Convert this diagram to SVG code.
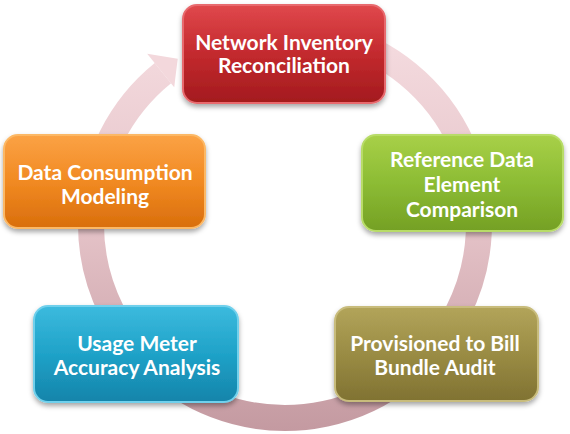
<svg xmlns="http://www.w3.org/2000/svg" width="570" height="434" viewBox="0 0 570 434">
<style>
.lbl{font-family:Lato,"Liberation Sans",sans-serif;font-weight:bold;font-size:21px;fill:#ffffff;text-anchor:middle}
.box{stroke-width:2}
</style>
<defs>
<linearGradient id="ring" gradientUnits="userSpaceOnUse" x1="0" y1="30" x2="0" y2="430">
<stop offset="0" stop-color="#f5dce0"/><stop offset="0.5" stop-color="#e4c2c7"/><stop offset="1" stop-color="#c49aa1"/>
</linearGradient>
<linearGradient id="gRed" x1="0" y1="0" x2="0" y2="1">
<stop offset="0" stop-color="#e0484c"/><stop offset="0.5" stop-color="#c32a2e"/><stop offset="1" stop-color="#a31a1e"/>
</linearGradient>
<linearGradient id="gGreen" x1="0" y1="0" x2="0" y2="1">
<stop offset="0" stop-color="#a8d048"/><stop offset="0.5" stop-color="#8cbc34"/><stop offset="1" stop-color="#74a024"/>
</linearGradient>
<linearGradient id="gOrange" x1="0" y1="0" x2="0" y2="1">
<stop offset="0" stop-color="#fba245"/><stop offset="0.5" stop-color="#f18a22"/><stop offset="1" stop-color="#d96e0c"/>
</linearGradient>
<linearGradient id="gBlue" x1="0" y1="0" x2="0" y2="1">
<stop offset="0" stop-color="#3cbade"/><stop offset="0.5" stop-color="#1fa2c8"/><stop offset="1" stop-color="#1584aa"/>
</linearGradient>
<linearGradient id="gOlive" x1="0" y1="0" x2="0" y2="1">
<stop offset="0" stop-color="#b2a45a"/><stop offset="0.5" stop-color="#9a8c44"/><stop offset="1" stop-color="#807232"/>
</linearGradient>
<filter id="sh" x="-10%" y="-10%" width="120%" height="130%">
<feDropShadow dx="0" dy="3" stdDeviation="2.5" flood-color="#000" flood-opacity="0.35"/>
</filter>
</defs>
<g id="connectors">
<path d="M335.2,36.6 A194,194 0 1 1 162.9,73.2" fill="none" stroke="url(#ring)" stroke-width="26"/>
<polygon points="147.2,53.8 177.7,58.8 174.2,87.2" fill="#f3d8dc"/>
</g>
<g id="node-network">
<rect class="box" x="183" y="5" width="202" height="98" rx="14" fill="url(#gRed)" stroke="#e86a6e" filter="url(#sh)"/>
<text class="lbl" x="284" y="50">Network Inventory</text>
<text class="lbl" x="284" y="73">Reconciliation</text>
</g>
<g id="node-reference">
<rect class="box" x="362" y="135" width="201" height="96" rx="14" fill="url(#gGreen)" stroke="#b8dc68" filter="url(#sh)"/>
<text class="lbl" x="462" y="167">Reference Data</text>
<text class="lbl" x="462" y="192">Element</text>
<text class="lbl" x="462" y="217">Comparison</text>
</g>
<g id="node-provisioned">
<rect class="box" x="335" y="307" width="203" height="94" rx="14" fill="url(#gOlive)" stroke="#c8bc7c" filter="url(#sh)"/>
<text class="lbl" x="435" y="351">Provisioned to Bill</text>
<text class="lbl" x="435" y="375">Bundle Audit</text>
</g>
<g id="node-usage">
<rect class="box" x="34" y="306" width="204" height="96" rx="14" fill="url(#gBlue)" stroke="#6fd0ec" filter="url(#sh)"/>
<text class="lbl" x="137" y="351">Usage Meter</text>
<text class="lbl" x="137" y="375">Accuracy Analysis</text>
</g>
<g id="node-data">
<rect class="box" x="4" y="135" width="201" height="93" rx="14" fill="url(#gOrange)" stroke="#fcb865" filter="url(#sh)"/>
<text class="lbl" x="105" y="180">Data Consumption</text>
<text class="lbl" x="105" y="204">Modeling</text>
</g>
</svg>
